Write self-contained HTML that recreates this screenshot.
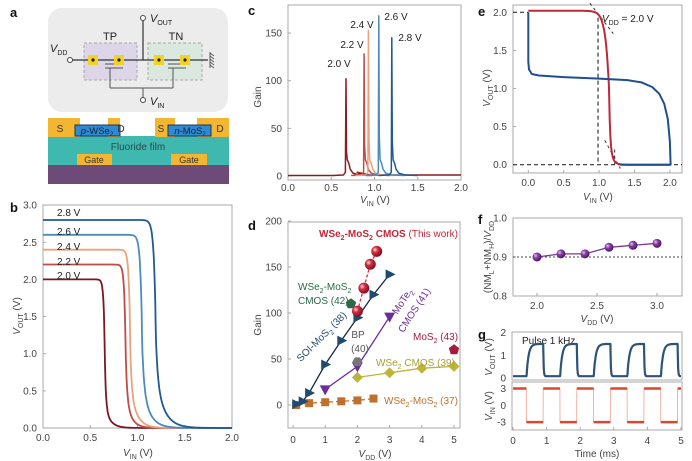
<!DOCTYPE html>
<html><head><meta charset="utf-8">
<style>
html,body{margin:0;padding:0;background:#fff;}
svg{display:block;font-family:"Liberation Sans",sans-serif;}
</style></head>
<body>
<svg id="s" width="692" height="461" viewBox="0 0 692 461" xmlns="http://www.w3.org/2000/svg">
<defs>
<radialGradient id="gr" cx="35%" cy="35%" r="65%"><stop offset="0" stop-color="#ffd0d0"/><stop offset="0.4" stop-color="#d03040"/><stop offset="1" stop-color="#801020"/></radialGradient>
<radialGradient id="gp" cx="35%" cy="35%" r="65%"><stop offset="0" stop-color="#e8c8f0"/><stop offset="0.4" stop-color="#8a40a8"/><stop offset="1" stop-color="#4a1a60"/></radialGradient>
</defs>
</svg>
<script>
(function(){
var o='';
function L(x1,y1,x2,y2,c,w,d){o+='<line x1="'+x1+'" y1="'+y1+'" x2="'+x2+'" y2="'+y2+'" stroke="'+c+'" stroke-width="'+(w||1)+'"'+(d?' stroke-dasharray="'+d+'"':'')+'/>';}
function T(x,y,s,sz,c,anc,extra){o+='<text x="'+x+'" y="'+y+'" font-size="'+(sz||10)+'" fill="'+(c||'#444')+'" text-anchor="'+(anc||'middle')+'" '+(extra||'')+'>'+s+'</text>';}
function R(x,y,w,h,f,extra){o+='<rect x="'+x+'" y="'+y+'" width="'+w+'" height="'+h+'" fill="'+f+'" '+(extra||'')+'/>';}
function P(pts,c,w,d){var s='M'+pts.map(function(p){return p[0].toFixed(1)+','+p[1].toFixed(1)}).join('L');o+='<path d="'+s+'" fill="none" stroke="'+c+'" stroke-width="'+(w||1.5)+'"'+(d?' stroke-dasharray="'+d+'"':'')+' stroke-linejoin="round"/>';}
function vlab(m,s,rest){return '<tspan font-style="italic">'+m+'</tspan><tspan font-size="7" dy="3">'+s+'</tspan><tspan dy="-3">'+rest+'</tspan>';}
function frame(x1,y1,x2,y2){o+='<rect x="'+x1+'" y="'+y1+'" width="'+(x2-x1)+'" height="'+(y2-y1)+'" fill="none" stroke="#aaa" stroke-width="1"/>';}
function letter(x,y,s){T(x,y,s,13,'#111','start','font-weight="bold"');}

/* ===== panel a ===== */
letter(10,17,'a');
o+='<rect x="48" y="8" width="180" height="104" rx="14" fill="#ececec"/>';
R(84,43,53,37,'#ddd5e8','stroke="#aaa" stroke-dasharray="3,2"');
R(148,43,54,37,'#dbe8e0','stroke="#aaa" stroke-dasharray="3,2"');
T(110,40,'TP',11,'#222');T(176,40,'TN',11,'#222');
L(72,60,208,60,'#333',1.2);
L(143,21,143,60,'#333',1.2);
L(110,68,110,88,'#555',1);L(173,68,173,88,'#555',1);L(110,88,173,88,'#555',1);L(143,88,143,97,'#555',1);
L(105,64,123,64,'#555',1);L(105,68,123,68,'#555',1);L(168,64,186,64,'#555',1);L(168,68,186,68,'#555',1);
[[93,60],[119,60],[159,60],[185,60]].forEach(function(p){R(p[0]-5,p[1]-5,10,10,'#f2d22a');o+='<circle cx="'+p[0]+'" cy="'+p[1]+'" r="1.6" fill="#222"/>';});
o+='<circle cx="70" cy="60" r="2.5" fill="#fff" stroke="#444"/><circle cx="143" cy="18" r="2.5" fill="#fff" stroke="#444"/><circle cx="143" cy="100" r="2.5" fill="#fff" stroke="#444"/>';
L(210,52,210,68,'#555',1);for(var i=0;i<5;i++)L(210,53+i*3,214,56+i*3,'#555',0.8);
T(50,52,vlab('V','DD',''),11,'#222','start');
T(150,22,vlab('V','OUT',''),11,'#222','start');
T(150,105,vlab('V','IN',''),11,'#222','start');
R(48,136,181,30,'#3fb8b0');
R(48,165,181,19,'#6e4a78');
R(77,154,35,11,'#f2b632');R(171,154,36,11,'#f2b632');
T(94,163,'Gate',9,'#333');T(189,163,'Gate',9,'#333');
T(138,150,'Fluoride film',10,'#2a4a4a');
R(48,118,32,19,'#f2b632');R(108,118,12,19,'#f2b632');R(155,118,20,19,'#f2b632');R(197,118,32,19,'#f2b632');
R(75,125,45,11,'#2f8ad0','stroke="#235" stroke-width="1"');R(168,125,43,11,'#2f8ad0','stroke="#235" stroke-width="1"');
T(60,132,'S',10,'#333');T(121,132,'D',10,'#333');T(161,132,'S',10,'#333');T(220,132,'D',10,'#333');
T(97,134,'<tspan font-style="italic">p</tspan>-WSe<tspan font-size="6" dy="2">2</tspan>',9.5,'#0d2440');
T(190,134,'<tspan font-style="italic">n</tspan>-MoS<tspan font-size="6" dy="2">2</tspan>',9.5,'#0d2440');

/* ===== panel b ===== */
letter(10,212,'b');
function bx(v){return 43+v*94.5;} function by(v){return 428-v*74.3;}
frame(43,205,232,428);
[0,0.5,1,1.5,2].forEach(function(v){T(bx(v),441,v.toFixed(1),10,'#444');L(bx(v),428,bx(v),425,'#aaa');});
for(var v=0;v<=3.01;v+=0.5){T(37,by(v)+3.5,v.toFixed(1),10,'#444','end');L(43,by(v),46,by(v),'#aaa');}
T(138,456,vlab('V','IN',' (V)'),10,'#444');
T(0,0,vlab('V','OUT',' (V)'),10,'#444','middle','transform="translate(20,316) rotate(-90)"');
var bc=[[2.0,0.655,0.9,0.012,0.012,0.06,0.3,'#7a1820'],[2.2,0.875,1.0,0.014,0.015,0.06,0.4,'#c24a45'],[2.4,0.925,1.0,0.015,0.015,0.07,0.5,'#eba27c'],[2.6,1.05,1.1,0.018,0.02,0.08,0.5,'#4a8cbc'],[2.8,1.195,1.2,0.02,0.02,0.09,0.55,'#1f5a92']];
bc.forEach(function(c){var V=c[0],xt=c[1],m=c[2],w1=c[3],w2=c[4],wt=c[5],tf=c[6],pts=[];
for(var x=0;x<=2.0001;x+=0.004){var yy;if(x<xt)yy=V-(V-m)*Math.exp((x-xt)/w1);else yy=m*((1-tf)*Math.exp(-(x-xt)/w2)+tf*Math.exp(-(x-xt)/wt));pts.push([bx(x),by(yy)]);}
P(pts,c[7],1.8);});
T(57,216,'2.8 V',10,'#222','start');T(57,235,'2.6 V',10,'#222','start');T(57,250,'2.4 V',10,'#222','start');T(57,265,'2.2 V',10,'#222','start');T(57,279,'2.0 V',10,'#222','start');

/* ===== panel c ===== */
letter(248,15,'c');
function cx(v){return 288+v*86.5;} function cy(g){return 176-g*0.953;}
frame(288,5,461,180);
[0,0.5,1,1.5,2].forEach(function(v){T(cx(v),191,v.toFixed(1),10,'#444');L(cx(v),180,cx(v),177,'#aaa');});
[0,50,100,150].forEach(function(g){T(282,cy(g)+3.5,g,10,'#444','end');L(288,cy(g),291,cy(g),'#aaa');});
T(375,203,vlab('V','IN',' (V)'),10,'#444');
T(0,0,'Gain',10,'#444','middle','transform="translate(261,97) rotate(-90)"');
var cc=[[0.67,102,'#8a1c22'],[0.88,128,'#c24a45'],[0.93,153,'#eba27c'],[1.05,168,'#4a8cbc'],[1.2,145,'#1f5a92']];
cc.forEach(function(c,i){var xp=c[0],h=c[1],pts=[[cx(xp-0.15),cy(0.5)],[cx(xp-0.03),cy(1)],[cx(xp-0.006),cy(4)],[cx(xp),cy(h)],[cx(xp+0.006),cy(h*0.25)],[cx(xp+0.015),cy(17)],[cx(xp+0.03),cy(14)],[cx(xp+0.05),cy(7)],[cx(xp+0.08),cy(3)],[cx(xp+0.15),cy(1)],[cx(xp+0.3),cy(0.5)]];
if(i==0){pts=[[cx(0),cy(0.5)]].concat(pts);pts.push([cx(0.8),cy(4)],[cx(0.85),cy(1)],[cx(2),cy(1)]);}
P(pts,c[2],1.5);});
T(339,67,'2.0 V',10,'#222');T(352,48,'2.2 V',10,'#222');T(362,28,'2.4 V',10,'#222');T(396,20,'2.6 V',10,'#222');T(410,41,'2.8 V',10,'#222');

/* ===== panel d ===== */
letter(248,230,'d');
function dx(v){return 293+v*32.2;} function dy(g){return 405-g*0.92;}
frame(288,222,460,428);
[0,1,2,3,4,5].forEach(function(v){T(dx(v),443,v,10,'#444');L(dx(v),428,dx(v),425,'#aaa');});
[0,50,100,150,200].forEach(function(g){T(282,dy(g)+3.5,g,10,'#444','end');L(288,dy(g),291,dy(g),'#aaa');});
T(375,457,vlab('V','DD',' (V)'),10,'#444');
T(0,0,'Gain',10,'#444','middle','transform="translate(261,325) rotate(-90)"');
function mk(type,x,y,c){
if(type=='tr')o+='<polygon points="'+(x-4)+','+(y-5)+' '+(x+6)+','+y+' '+(x-4)+','+(y+5)+'" fill="'+c+'"/>';
else if(type=='td')o+='<polygon points="'+(x-5.5)+','+(y-4)+' '+(x+5.5)+','+(y-4)+' '+x+','+(y+6)+'" fill="'+c+'"/>';
else if(type=='sq')R(x-4,y-4,8,8,c);
else if(type=='di')o+='<polygon points="'+x+','+(y-5.5)+' '+(x+5.5)+','+y+' '+x+','+(y+5.5)+' '+(x-5.5)+','+y+'" fill="'+c+'"/>';
else if(type=='pe'){var p=[];for(var k=0;k<5;k++){var a=-Math.PI/2+k*2*Math.PI/5;p.push((x+5.5*Math.cos(a)).toFixed(1)+','+(y+5.5*Math.sin(a)).toFixed(1));}o+='<polygon points="'+p.join(' ')+'" fill="'+c+'"/>';}
else if(type=='hx'){var p=[];for(var k=0;k<6;k++){var a=k*Math.PI/3;p.push((x+5*Math.cos(a)).toFixed(1)+','+(y+5*Math.sin(a)).toFixed(1));}o+='<polygon points="'+p.join(' ')+'" fill="'+c+'"/>';}
else if(type=='sp')o+='<circle cx="'+x+'" cy="'+y+'" r="5.5" fill="'+c+'"/>';}
function ser(data,type,c,lc,dash,w){P(data.map(function(p){return[dx(p[0]),dy(p[1])]}),lc,w||1.3,dash);data.forEach(function(p){mk(type,dx(p[0]),dy(p[1]),c);});}
ser([[0.1,0],[0.5,2],[1,3],[1.5,4],[2,5],[2.5,7]],'sq','#c0702c','#c0702c','5,3');
ser([[2,30],[3,35],[4,40],[5,42]],'di','#bdb43a','#bdb43a');
ser([[1,17],[2,42],[3,96]],'td','#6a2d9a','#6a2d9a');
ser([[0.1,1],[0.3,4],[0.5,13],[1,44],[1.5,70],[2,95],[2.5,120],[3,142]],'tr','#1f4a72','#1a2a40');
mk('hx',dx(2),dy(47),'#777');
mk('pe',dx(1.8),dy(110),'#2a6a48');
mk('pe',dx(5),dy(60),'#a01e3a');
ser([[2,102],[2.2,127],[2.4,153],[2.6,167]],'sp','url(#gr)','#d0303f','3,2');
T(319,237,'WSe<tspan font-size="7" dy="3">2</tspan><tspan dy="-3">-MoS</tspan><tspan font-size="7" dy="3">2</tspan><tspan dy="-3"> CMOS </tspan><tspan font-weight="normal">(This work)</tspan>',10,'#c0283a','start','font-weight="bold"');
T(298,290,'WSe<tspan font-size="7" dy="3">2</tspan><tspan dy="-3">-MoS</tspan><tspan font-size="7" dy="3">2</tspan>',10,'#2a6a48','start');
T(298,304,'CMOS (42)',10,'#2a6a48','start');
T(0,0,'SOI-MoS<tspan font-size="7" dy="3">2</tspan><tspan dy="-3"> (38)</tspan>',10,'#1f4a72','middle','transform="translate(324,339) rotate(-45)"');
T(0,0,'MoTe<tspan font-size="7" dy="3">2</tspan>',10,'#6a2d9a','middle','transform="translate(405,303) rotate(-57)"');
T(0,0,'CMOS (41)',10,'#6a2d9a','middle','transform="translate(417,312) rotate(-57)"');
T(358,338,'BP',10,'#555');T(360,352,'(40)',10,'#555');
T(413,340,'MoS<tspan font-size="7" dy="3">2</tspan><tspan dy="-3">  (43)</tspan>',10,'#a01e3a','start');
T(376,366,'WSe<tspan font-size="7" dy="3">2</tspan><tspan dy="-3"> CMOS (39)</tspan>',10,'#a8a030','start');
T(384,404,'WSe<tspan font-size="7" dy="3">2</tspan><tspan dy="-3">-MoS</tspan><tspan font-size="7" dy="3">2</tspan><tspan dy="-3"> (37)</tspan>',10,'#c0702c','start');

/* ===== panel e ===== */
letter(478,16,'e');
function ex(v){return 528.3+v*70.8;} function ey(v){return 164.7-v*76.2;}
frame(513,5,682,173);
[0,0.5,1,1.5,2].forEach(function(v){T(ex(v),186,v.toFixed(1),10,'#444');L(ex(v),173,ex(v),170,'#aaa');});
[0,0.5,1,1.5,2].forEach(function(v){T(507,ey(v)+3.5,v.toFixed(1),10,'#444','end');L(513,ey(v),516,ey(v),'#aaa');});
T(598,200,vlab('V','IN',' (V)'),10,'#444');
T(0,0,vlab('V','OUT',' (V)'),10,'#444','middle','transform="translate(490,88) rotate(-90)"');
L(513,ey(2),ex(0),ey(2),'#333',1.2,'4,3');
L(513,ey(0),682,ey(0),'#333',1.2,'4,3');
L(ex(0.985),ey(1.93),ex(0.985),ey(0),'#333',1.2,'4,3');
L(ex(1.22),ey(0.2),ex(1.22),ey(0),'#333',1,'3,3');
L(ex(0.87),ey(2.12),ex(1.2),ey(1.72),'#333',1,'3,3');
L(ex(1.08),ey(0.32),ex(1.3),ey(-0.05),'#333',1,'3,3');
var pts=[];for(var x=0;x<=2.0001;x+=0.005){var yy;var xt=1.14;if(x<xt)yy=2.02-(2.02-1.0)*Math.exp((x-xt)/0.05);else yy=1.0*(0.7*Math.exp(-(x-xt)/0.015)+0.3*Math.exp(-(x-xt)/0.04));pts.push([ex(x),ey(yy)]);}
P(pts,'#c0283a',2);
var bp=[[0,2],[0,1.35],[0.01,1.25],[0.05,1.19],[0.15,1.17],[0.5,1.15],[1,1.13],[1.4,1.11],[1.6,1.08],[1.75,1.02],[1.85,0.93],[1.92,0.8],[1.97,0.6],[2.0,0.3],[2.01,0.0],[1.3,0.0]];
P(bp.map(function(p){return[ex(p[0]),ey(p[1])]}),'#1f4f8f',2);
T(602,22,vlab('V','DD',' = 2.0 V'),10,'#222','start');

/* ===== panel f ===== */
letter(478,224,'f');
function fx(v){return 537+(v-2)*120;} function fy(v){return 296-(v-0.8)*390;}
frame(513,218,682,296);
[2,2.5,3].forEach(function(v){T(fx(v),309,v.toFixed(1),10,'#444');L(fx(v),296,fx(v),293,'#aaa');});
[0.8,0.9,1.0].forEach(function(v){T(507,fy(v)+3.5,v.toFixed(1),10,'#444','end');L(513,fy(v),516,fy(v),'#aaa');});
L(513,fy(0.9),682,fy(0.9),'#444',1,'2,2');
T(597,322,vlab('V','DD',' (V)'),10,'#444');
T(0,0,'(NM<tspan font-size="7" dy="3">L</tspan><tspan dy="-3">+NM</tspan><tspan font-size="7" dy="3">H</tspan><tspan dy="-3">)/</tspan><tspan font-style="italic">V</tspan><tspan font-size="7" dy="3">DD</tspan>',10,'#444','middle','transform="translate(491,257) rotate(-90)"');
var fd=[[2,0.9],[2.2,0.908],[2.4,0.908],[2.6,0.925],[2.8,0.93],[3,0.935]];
P(fd.map(function(p){return[fx(p[0]),fy(p[1])]}),'#7a3a98',1.3);
fd.forEach(function(p){o+='<circle cx="'+fx(p[0])+'" cy="'+fy(p[1])+'" r="4.5" fill="url(#gp)"/>';});

/* ===== panel g ===== */
letter(478,339,'g');
function gx(t){return 513+t*33.6;}
frame(512,332,682,380);frame(512,382,682,430);
function gy1(v){return 378-v*22.7;} function gy2(v){return 405.3-v*5.6;}
[0,1,2].forEach(function(v){T(506,gy1(v)+3.5,v,10,'#444','end');});
[3,0,-3].forEach(function(v){T(506,gy2(v)+3.5,v,10,'#444','end');});
[0,1,2,3,4,5].forEach(function(v){T(gx(v),444,v,10,'#444');L(gx(v),430,gx(v),427,'#aaa');});
T(597,457,'Time (ms)',10,'#444');
T(0,0,vlab('V','OUT',' (V)'),10,'#444','middle','transform="translate(492,357) rotate(-90)"');
T(0,0,vlab('V','IN',' (V)'),10,'#444','middle','transform="translate(492,406) rotate(-90)"');
T(522,344,'Pulse 1 kHz',10,'#222','start');
var vo=[],vi=[];
var topv=1.5*(1-Math.exp(-0.5/0.06));
for(var n=0;n<=1000;n++){var t=n*0.005;var ph=((t-0.4)%1+1)%1;var yv;
if(ph<0.5)yv=1.5*(1-Math.exp(-ph/0.06));else yv=0.08+(topv-0.08)*Math.exp(-(ph-0.5)/0.012);
if(yv<0.08)yv=0.08;
vo.push([gx(t),gy1(yv)]);
var hi=(((t-0.9)%1+1)%1)<0.5;vi.push([gx(t),gy2(hi?3:-3)]);}
P(vi,'#f0a090',0.8);
for(var k=-1;k<5;k++){var a1=Math.max(0,k+0.9),b1=Math.min(5,k+1.4);if(b1>a1)L(gx(a1),gy2(3),gx(b1),gy2(3),'#d9482b',2.5);var c1=Math.max(0,k+1.4),d1=Math.min(5,k+1.9);if(d1>c1)L(gx(c1),gy2(-3),gx(d1),gy2(-3),'#d9482b',2.5);}
P(vo,'#2d5378',2.2);

document.getElementById('s').insertAdjacentHTML('beforeend',o);
})();
</script>
</body></html>
